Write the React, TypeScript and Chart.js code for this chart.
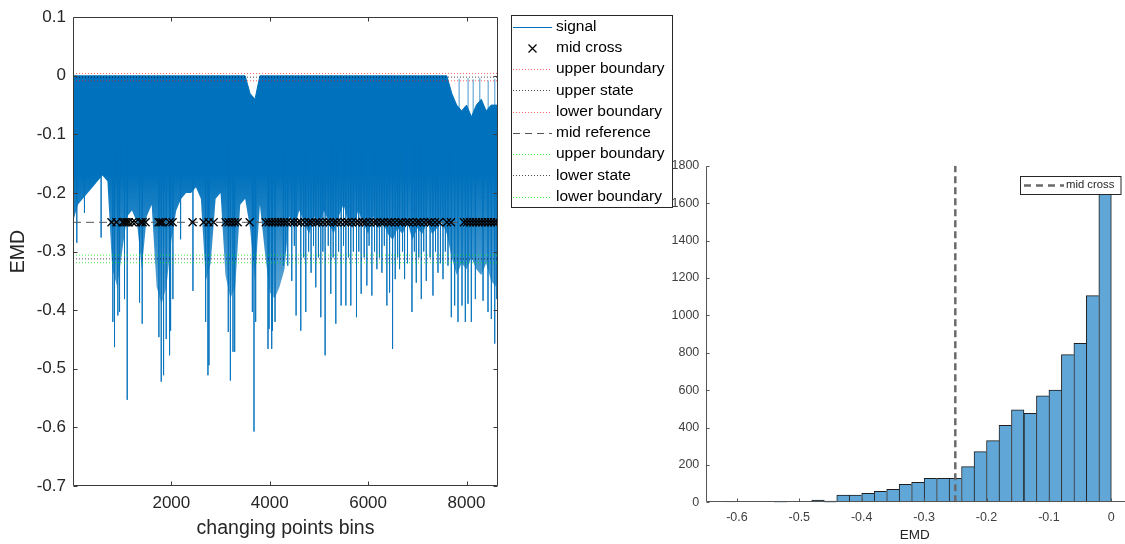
import React, { useEffect, useRef } from "react";
import { Chart, registerables } from "chart.js";
Chart.register(...registerables);

const FONT = "'Liberation Sans', Arial, Helvetica, sans-serif";
Chart.defaults.font.family = FONT;

// ---------------- Left chart data (signal envelope) ----------------
const bandX = [0, 100, 200, 300, 400, 500, 600, 700, 800, 900, 1000, 1100, 1200, 1300, 1400, 1500, 1600, 1700, 1800, 1900, 2000, 2100, 2200, 2300, 2400, 2500, 2600, 2700, 2800, 2900, 3000, 3100, 3200, 3300, 3400, 3500, 3600, 3700, 3800, 3900, 4000, 4100, 4200, 4300, 4400, 4500, 4600, 4700, 4800, 4900, 5000, 5100, 5200, 5300, 5400, 5500, 5600, 5700, 5800, 5900, 6000, 6100, 6200, 6300, 6400, 6500, 6600, 6700, 6800, 6900, 7000, 7100, 7200, 7300, 7400, 7500, 7600, 7700, 7800, 7900, 8000, 8100, 8200, 8300, 8400, 8500, 8600, 8640];
const bandTop = [0, 0, 0, 0, 0, 0, 0, 0, 0, 0, 0, 0, 0, 0, 0, 0, 0, 0, 0, 0, 0, 0, 0, 0, 0, 0, 0, 0, 0, 0, 0, 0, 0, 0, 0, 0, -0.03, -0.04, 0, 0, 0, 0, 0, 0, 0, 0, 0, 0, 0, 0, 0, 0, 0, 0, 0, 0, 0, 0, 0, 0, 0, 0, 0, 0, 0, 0, 0, 0, 0, 0, 0, 0, 0, 0, 0, 0, 0, -0.03, -0.05, -0.06, -0.05, -0.07, -0.05, -0.04, -0.06, -0.05, -0.05, -0.05];
const bandBottom = [-0.25, -0.22, -0.21, -0.2, -0.19, -0.18, -0.17, -0.18, -0.33, -0.36, -0.3, -0.24, -0.23, -0.25, -0.33, -0.24, -0.22, -0.36, -0.39, -0.36, -0.28, -0.23, -0.21, -0.2, -0.2, -0.19, -0.21, -0.35, -0.32, -0.21, -0.2, -0.34, -0.38, -0.36, -0.22, -0.21, -0.26, -0.35, -0.22, -0.3, -0.37, -0.38, -0.36, -0.33, -0.24, -0.26, -0.23, -0.25, -0.27, -0.24, -0.26, -0.23, -0.25, -0.27, -0.24, -0.22, -0.25, -0.26, -0.23, -0.25, -0.27, -0.24, -0.26, -0.25, -0.27, -0.28, -0.26, -0.27, -0.25, -0.28, -0.26, -0.27, -0.25, -0.27, -0.26, -0.25, -0.27, -0.31, -0.34, -0.32, -0.33, -0.31, -0.33, -0.34, -0.32, -0.35, -0.36, -0.34];

const spikeX = [78, 234, 573, 811, 845, 913, 947, 1048, 1103, 1354, 1408, 1747, 1795, 1842, 1896, 1964, 1985, 2032, 2188, 2439, 2697, 2744, 2765, 3158, 3200, 3253, 3287, 3647, 3680, 3714, 3965, 3986, 4040, 4054, 4108, 4278, 4320, 4366, 4448, 4500, 4536, 4631, 4690, 4733, 4790, 4841, 4890, 4936, 4990, 5038, 5080, 5126, 5190, 5241, 5290, 5343, 5400, 5452, 5500, 5547, 5600, 5648, 5700, 5764, 5810, 5859, 5920, 5974, 6020, 6076, 6130, 6178, 6230, 6280, 6330, 6381, 6436, 6497, 6551, 6600, 6639, 6700, 6741, 6800, 6891, 6940, 6979, 7030, 7081, 7130, 7182, 7260, 7318, 7370, 7420, 7470, 7522, 7570, 7623, 7691, 7759, 7827, 7850, 7908, 7976, 8030, 8032, 8098, 8135, 8180, 8270, 8336, 8437, 8440, 8505, 8573, 8575, 8614];
const spikeY = [-0.285, -0.234, -0.276, -0.42, -0.463, -0.409, -0.403, -0.381, -0.553, -0.387, -0.423, -0.446, -0.522, -0.511, -0.449, -0.477, -0.435, -0.381, -0.279, -0.367, -0.42, -0.511, -0.494, -0.437, -0.52, -0.471, -0.471, -0.403, -0.607, -0.42, -0.466, -0.432, -0.466, -0.435, -0.42, -0.324, -0.3, -0.324, -0.35, -0.29, -0.409, -0.435, -0.31, -0.403, -0.3, -0.336, -0.29, -0.361, -0.31, -0.412, -0.3, -0.477, -0.29, -0.372, -0.31, -0.423, -0.3, -0.392, -0.29, -0.392, -0.31, -0.392, -0.3, -0.412, -0.3, -0.372, -0.31, -0.358, -0.29, -0.375, -0.3, -0.33, -0.31, -0.336, -0.29, -0.392, -0.37, -0.466, -0.347, -0.31, -0.33, -0.3, -0.347, -0.32, -0.403, -0.3, -0.353, -0.31, -0.381, -0.3, -0.35, -0.31, -0.375, -0.3, -0.336, -0.32, -0.347, -0.3, -0.324, -0.412, -0.392, -0.42, -0.005, -0.392, -0.42, -0.389, -0.004, -0.42, -0.006, -0.381, -0.004, -0.384, -0.403, -0.008, -0.415, -0.457, -0.005, -0.381];

const crossX = [784, 885, 1008, 1048, 1089, 1130, 1211, 1272, 1374, 1415, 1476, 1741, 1781, 1822, 1964, 2025, 2432, 2656, 2758, 2860, 3104, 3165, 3226, 3287, 3348, 3593, 3919, 3980, 4041, 4102, 4163, 4224, 4285, 4346, 4427, 4488, 4570, 4631, 4712, 4794, 4855, 4936, 4997, 5079, 5160, 5221, 5303, 5364, 5445, 5527, 5588, 5669, 5751, 5812, 5893, 5954, 6036, 6117, 6178, 6260, 6321, 6402, 6463, 6544, 6626, 6687, 6768, 6829, 6911, 6992, 7053, 7135, 7216, 7277, 7359, 7440, 7603, 7684, 7949, 8010, 8071, 8132, 8193, 8254, 8315, 8376, 8437, 8498, 8559, 8620];

const X_MIN = 1;
const X_MAX = 8640;
const midReference = -0.25;
const upperBoundaryHigh = 0.004;
const upperState = -0.0023;
const lowerBoundaryHigh = -0.0085;
const upperBoundaryLow = -0.306;
const lowerState = -0.3124;
const lowerBoundaryLow = -0.319;

const leftYTicks = [0.1, 0, -0.1, -0.2, -0.3, -0.4, -0.5, -0.6, -0.7];
const leftXTicks = [2000, 4000, 6000, 8000];
const leftXTitle = "changing points bins";
const leftYTitle = "EMD";

// ---------------- Right chart data (histogram) ----------------
const binCenters = [-0.61, -0.59, -0.57, -0.55, -0.53, -0.51, -0.49, -0.47, -0.45, -0.43, -0.41, -0.39, -0.37, -0.35, -0.33, -0.31, -0.29, -0.27, -0.25, -0.23, -0.21, -0.19, -0.17, -0.15, -0.13, -0.11, -0.09, -0.07, -0.05, -0.03, -0.01];
const binCounts = [1, 0, 0, 0, 5, 0, 0, 12, 7, 39, 39, 48, 59, 70, 96, 107, 128, 128, 128, 191, 271, 330, 412, 495, 476, 570, 600, 790, 850, 1105, 1685];
const histXTicks = [-0.6, -0.5, -0.4, -0.3, -0.2, -0.1, 0];
const histYTicks = [0, 200, 400, 600, 800, 1000, 1200, 1400, 1600, 1800];
const histMidCross = -0.25;
const histXTitle = "EMD";

// ---------------- helpers ----------------
function axesPlugin(box: boolean, color: string, tickLen: number, extendRight: boolean) {
  return {
    id: "matlabAxes",
    afterDatasetsDraw(chart: any) {
      const { ctx, chartArea: a } = chart;
      const xs = chart.scales.x;
      const ys = chart.scales.y;
      ctx.save();
      ctx.strokeStyle = color;
      ctx.lineWidth = 1;
      ctx.setLineDash([]);
      const L = Math.round(a.left) + 0.5;
      const R = Math.round(a.right) - 0.5;
      const T = Math.round(a.top) + 0.5;
      const B = Math.round(a.bottom) - 0.5;
      ctx.beginPath();
      if (box) {
        ctx.rect(L, T, R - L, B - T);
      } else {
        ctx.moveTo(L, T);
        ctx.lineTo(L, B);
        ctx.lineTo(extendRight ? chart.width : R, B);
      }
      xs.ticks.forEach((t: any) => {
        const p = Math.round(xs.getPixelForValue(t.value)) + 0.5;
        ctx.moveTo(p, B);
        ctx.lineTo(p, B - tickLen);
        if (box) {
          ctx.moveTo(p, T);
          ctx.lineTo(p, T + tickLen);
        }
      });
      ys.ticks.forEach((t: any) => {
        const p = Math.round(ys.getPixelForValue(t.value)) + 0.5;
        ctx.moveTo(L, p);
        ctx.lineTo(L + tickLen, p);
        if (box) {
          ctx.moveTo(R, p);
          ctx.lineTo(R - tickLen, p);
        }
      });
      ctx.stroke();
      ctx.restore();
    },
  };
}

function drawSample(ctx: CanvasRenderingContext2D, ds: any, x0: number, x1: number, y: number) {
  ctx.save();
  if (ds.sample === "marker") {
    const cx = (x0 + x1) / 2;
    const h = 4;
    ctx.strokeStyle = "#000";
    ctx.lineWidth = 1.2;
    ctx.beginPath();
    ctx.moveTo(cx - h, y - h);
    ctx.lineTo(cx + h, y + h);
    ctx.moveTo(cx + h, y - h);
    ctx.lineTo(cx - h, y + h);
    ctx.stroke();
  } else {
    ctx.strokeStyle = ds.legendColor || ds.borderColor;
    ctx.lineWidth = ds.legendWidth || ds.borderWidth || 1;
    ctx.setLineDash(ds.legendDash || ds.borderDash || []);
    ctx.beginPath();
    ctx.moveTo(x0, y);
    ctx.lineTo(x1, y);
    ctx.stroke();
  }
  ctx.restore();
}

function legendPlugin(box: { x: number; y: number; w: number; h: number }, row0: number, rowStep: number, sx0: number, sx1: number, tx: number, fontSize: number, textColor: string) {
  return {
    id: "matlabLegend",
    afterDraw(chart: any) {
      const ctx: CanvasRenderingContext2D = chart.ctx;
      const items = chart.data.datasets.filter((d: any) => d.inLegend);
      ctx.save();
      ctx.fillStyle = "#fff";
      ctx.fillRect(box.x, box.y, box.w, box.h);
      ctx.strokeStyle = "#262626";
      ctx.lineWidth = 1;
      ctx.strokeRect(box.x + 0.5, box.y + 0.5, box.w, box.h);
      ctx.font = `${fontSize}px ${FONT}`;
      ctx.textBaseline = "middle";
      ctx.textAlign = "left";
      items.forEach((ds: any, i: number) => {
        const y = row0 + i * rowStep;
        drawSample(ctx, ds, sx0, sx1, Math.round(y) + 0.5);
        ctx.fillStyle = textColor;
        ctx.fillText(ds.label, tx, y);
      });
      ctx.restore();
    },
  };
}

function hLine(v: number) {
  return [
    { x: X_MIN, y: v },
    { x: X_MAX, y: v },
  ];
}

// ---------------- Left chart ----------------
function SignalChart() {
  const ref = useRef<HTMLCanvasElement | null>(null);
  useEffect(() => {
    if (!ref.current) return;
    const blue = "#0072BD";
    const spikeData: any[] = [];
    spikeX.forEach((x, i) => {
      spikeData.push({ x, y: -0.12 });
      spikeData.push({ x, y: spikeY[i] });
      spikeData.push({ x, y: null });
    });
    const dotted = [1, 2];
    const bandFill = (c: any) => {
      const ch = c.chart;
      if (!ch.chartArea) return blue;
      const ys = ch.scales.y;
      const g = ch.ctx.createLinearGradient(0, ys.getPixelForValue(-0.17), 0, ys.getPixelForValue(-0.38));
      g.addColorStop(0, blue);
      g.addColorStop(1, "rgba(0,114,189,0.62)");
      return g;
    };
    const chart = new Chart(ref.current, {
      type: "line",
      data: {
        datasets: [
          {
            label: "signal",
            inLegend: true,
            data: bandX.map((x, i) => ({ x, y: bandTop[i] })),
            borderColor: blue,
            borderWidth: 1,
            legendWidth: 1.2,
            pointRadius: 0,
            fill: false,
            order: 20,
          },
          {
            label: "signal-low",
            data: bandX.map((x, i) => ({ x, y: bandBottom[i] })),
            borderColor: "rgba(0,0,0,0)",
            borderWidth: 1,
            backgroundColor: bandFill,
            pointRadius: 0,
            fill: "-1",
            order: 19,
          },
          {
            label: "signal-spikes",
            data: spikeData,
            borderColor: "rgba(0,114,189,0.72)",
            borderWidth: 1,
            pointRadius: 0,
            spanGaps: false,
            order: 18,
          },
          {
            label: "mid cross",
            inLegend: true,
            sample: "marker",
            data: crossX.map((x) => ({ x, y: midReference })),
            showLine: false,
            pointStyle: "crossRot",
            pointRadius: 5.7,
            borderColor: "#000",
            backgroundColor: "#000",
            borderWidth: 1.3,
            order: 0,
          },
          {
            label: "upper boundary",
            inLegend: true,
            data: hLine(upperBoundaryHigh),
            borderColor: "rgba(255,0,0,0.6)",
            borderWidth: 1,
            borderDash: dotted,
            pointRadius: 0,
            order: 5,
          },
          {
            label: "upper state",
            inLegend: true,
            data: hLine(upperState),
            borderColor: "rgba(0,0,0,0.7)",
            borderWidth: 1,
            borderDash: dotted,
            pointRadius: 0,
            order: 5,
          },
          {
            label: "lower boundary",
            inLegend: true,
            data: hLine(lowerBoundaryHigh),
            borderColor: "rgba(255,0,0,0.6)",
            borderWidth: 1,
            borderDash: dotted,
            pointRadius: 0,
            order: 5,
          },
          {
            label: "mid reference",
            inLegend: true,
            data: hLine(midReference),
            borderColor: "#555",
            borderWidth: 1,
            borderDash: [8, 5],
            legendDash: [7, 5],
            pointRadius: 0,
            order: 4,
          },
          {
            label: "upper boundary",
            inLegend: true,
            data: hLine(upperBoundaryLow),
            borderColor: "rgba(0,230,0,0.75)",
            borderWidth: 1,
            borderDash: dotted,
            pointRadius: 0,
            order: 5,
          },
          {
            label: "lower state",
            inLegend: true,
            data: hLine(lowerState),
            borderColor: "rgba(0,0,0,0.7)",
            borderWidth: 1,
            borderDash: dotted,
            pointRadius: 0,
            order: 5,
          },
          {
            label: "lower boundary",
            inLegend: true,
            data: hLine(lowerBoundaryLow),
            borderColor: "rgba(0,230,0,0.75)",
            borderWidth: 1,
            borderDash: dotted,
            pointRadius: 0,
            order: 5,
          },
        ] as any,
      },
      options: {
        responsive: false,
        animation: false,
        events: [],
        layout: { padding: { left: 0, top: 15, right: 192, bottom: 0 } },
        plugins: { legend: { display: false }, tooltip: { enabled: false } },
        scales: {
          x: {
            type: "linear",
            min: X_MIN,
            max: X_MAX,
            grid: { display: false, drawTicks: false },
            border: { display: false },
            afterBuildTicks: (s: any) => {
              s.ticks = leftXTicks.map((v) => ({ value: v }));
            },
            afterFit: (s: any) => {
              s.height = 58;
            },
            ticks: {
              autoSkip: false,
              maxRotation: 0,
              padding: 7.5,
              color: "#262626",
              font: { size: 17 },
              callback: (v: any) => String(v),
            },
            title: {
              display: true,
              text: leftXTitle,
              color: "#262626",
              font: { size: 19.5 },
              padding: { top: 0, bottom: 4 },
            },
          },
          y: {
            type: "linear",
            min: -0.7,
            max: 0.1,
            grid: { display: false, drawTicks: false },
            border: { display: false },
            afterBuildTicks: (s: any) => {
              s.ticks = leftYTicks.map((v) => ({ value: v }));
            },
            afterFit: (s: any) => {
              s.width = 73;
            },
            ticks: {
              autoSkip: false,
              padding: 7,
              color: "#262626",
              font: { size: 17 },
              callback: (v: any) => String(v),
            },
            title: {
              display: true,
              text: leftYTitle,
              color: "#262626",
              font: { size: 19.5 },
              padding: { top: 7.3, bottom: 0 },
            },
          },
        },
      } as any,
      plugins: [
        axesPlugin(true, "#3a3a3a", 4, false),
        legendPlugin({ x: 511, y: 15, w: 161, h: 192 }, 26.7, 21.25, 513, 552, 556, 15.5, "#000"),
      ],
    });
    return () => chart.destroy();
  }, []);
  return <canvas ref={ref} width={690} height={544} style={{ position: "absolute", left: 0, top: 0, display: "block" }} />;
}

// ---------------- Right chart ----------------
function HistChart() {
  const ref = useRef<HTMLCanvasElement | null>(null);
  useEffect(() => {
    if (!ref.current) return;
    const chart = new Chart(ref.current, {
      type: "bar",
      data: {
        datasets: [
          {
            type: "line",
            label: "mid cross",
            inLegend: true,
            data: [
              { x: histMidCross, y: 0 },
              { x: histMidCross, y: 1800 },
            ],
            borderColor: "#6a6a6a",
            borderWidth: 2.5,
            borderDash: [7, 4],
            legendDash: [7, 5],
            legendWidth: 2.5,
            pointRadius: 0,
            order: 0,
          },
          {
            type: "bar",
            label: "counts",
            data: binCenters.map((c, i) => ({ x: c, y: binCounts[i] })),
            backgroundColor: "#60a7d8",
            borderColor: "#1e1e1e",
            borderWidth: (c: any) => {
              const i = c.dataIndex;
              const next = i + 1 < binCounts.length ? binCounts[i + 1] : 0;
              return { top: 1, left: 1, right: next < binCounts[i] ? 1 : 0, bottom: 0 };
            },
            barPercentage: 1,
            categoryPercentage: 1,
            order: 1,
          },
        ] as any,
      },
      options: {
        responsive: false,
        animation: false,
        events: [],
        layout: { padding: { left: 0, top: 165.7, right: 1.2, bottom: 0 } },
        plugins: { legend: { display: false }, tooltip: { enabled: false } },
        scales: {
          x: {
            type: "linear",
            min: -0.65,
            max: 0.02,
            offset: false,
            grid: { display: false, drawTicks: false },
            border: { display: false },
            afterBuildTicks: (s: any) => {
              s.ticks = histXTicks.map((v) => ({ value: v }));
            },
            afterFit: (s: any) => {
              s.height = 41.7;
            },
            ticks: {
              autoSkip: false,
              maxRotation: 0,
              padding: 8.2,
              color: "#404040",
              font: { size: 12.5 },
              callback: (v: any) => String(v),
            },
            title: {
              display: true,
              text: histXTitle,
              color: "#262626",
              font: { size: 13.5 },
              padding: { top: 0, bottom: 0.9 },
            },
          },
          y: {
            type: "linear",
            min: 0,
            max: 1800,
            grid: { display: false, drawTicks: false },
            border: { display: false },
            afterBuildTicks: (s: any) => {
              s.ticks = histYTicks.map((v) => ({ value: v }));
            },
            afterFit: (s: any) => {
              s.width = 65.7;
            },
            ticks: {
              autoSkip: false,
              padding: 6.4,
              color: "#404040",
              font: { size: 12.5 },
              callback: (v: any) => String(v),
            },
          },
        },
      } as any,
      plugins: [
        axesPlugin(false, "#555", 3, true),
        legendPlugin({ x: 380, y: 176, w: 100.5, h: 18 }, 185.3, 0, 384, 424, 426, 11.3, "#262626"),
      ],
    });
    return () => chart.destroy();
  }, []);
  return <canvas ref={ref} width={485} height={544} style={{ position: "absolute", left: 640, top: 0, display: "block" }} />;
}

export default function App() {
  return (
    <div style={{ position: "fixed", left: 0, top: 0, width: 1125, height: 544, background: "#fff" }}>
      <SignalChart />
      <HistChart />
    </div>
  );
}
